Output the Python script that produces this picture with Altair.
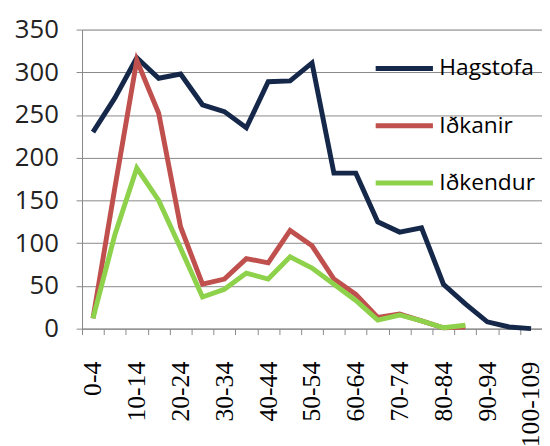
import altair as alt
import pandas as pd

categories = ["0-4", "5-9", "10-14", "15-19", "20-24", "25-29", "30-34", "35-39",
              "40-44", "45-49", "50-54", "55-59", "60-64", "65-69", "70-74",
              "75-79", "80-84", "85-89", "90-94", "95-99", "100-109"]
hagstofa = [230, 270, 317, 293, 298, 262, 254, 235, 289, 290, 311, 182, 182,
            125, 113, 118, 52, 29, 8, 2, 0]
idkanir = [12, 165, 314, 252, 119, 52, 58, 82, 77, 115, 97, 58, 40, 13, 17,
           9, 1, 2]
idkendur = [12, 110, 188, 150, 94, 37, 46, 65, 58, 84, 71, 52, 33, 10, 16,
            9, 1, 4]
series = ["Hagstofa", "Iðkanir", "Iðkendur"]
colors = ["#15284a", "#c0504d", "#8ed14a"]
widths = [5, 5, 3.5]

rows = []
for name, vals in zip(series, [hagstofa, idkanir, idkendur]):
    for c, v in zip(categories, vals):
        rows.append({"age": c, "value": v, "series": name})
df = pd.DataFrame(rows)

shown = [c for i, c in enumerate(categories) if i % 2 == 0]
label_expr = "indexof(" + str(shown) + ", datum.label) >= 0 ? datum.label : ''"

chart = alt.Chart(df).mark_line().encode(
    x=alt.X("age:N", sort=categories, title=None,
            scale=alt.Scale(paddingInner=0, paddingOuter=0),
            axis=alt.Axis(labelAngle=270, labelAlign="right", labelBaseline="middle",
                          labelExpr=label_expr, labelFont="Liberation Serif",
                          labelFontSize=26, labelColor="#000000", labelPadding=27,
                          tickBand="extent", tickSize=6, tickColor="#888888",
                          domainColor="#888888", grid=False, labelOverlap=False,
                          labelBound=False)),
    y=alt.Y("value:Q", title=None,
            scale=alt.Scale(domain=[0, 350], nice=False),
            axis=alt.Axis(values=[0, 50, 100, 150, 200, 250, 300, 350],
                          labelFont="Open Sans", labelFontSize=26,
                          labelColor="#222222", labelPadding=18,
                          tickSize=6, tickColor="#888888",
                          domainColor="#888888", gridColor="#888888",
                          gridWidth=1)),
    color=alt.Color("series:N", sort=series,
                    scale=alt.Scale(domain=series, range=colors),
                    legend=alt.Legend(title=None, orient="none", legendX=295,
                                      legendY=8, symbolType="stroke",
                                      symbolSize=3364, symbolStrokeWidth=5,
                                      labelFont="Open Sans", labelFontSize=23,
                                      labelColor="#000000", rowPadding=14,
                                      labelOffset=4)),
    strokeWidth=alt.StrokeWidth("series:N", sort=series,
                                scale=alt.Scale(domain=series, range=widths),
                                legend=None),
).properties(
    width=466, height=303,
    autosize=alt.AutoSizeParams(type="none"),
    padding={"left": 75, "top": 19, "right": 0, "bottom": 115},
).configure_view(stroke=None).configure(background="white")

chart.save("out.html", embed_options={"renderer": "svg", "actions": False})
